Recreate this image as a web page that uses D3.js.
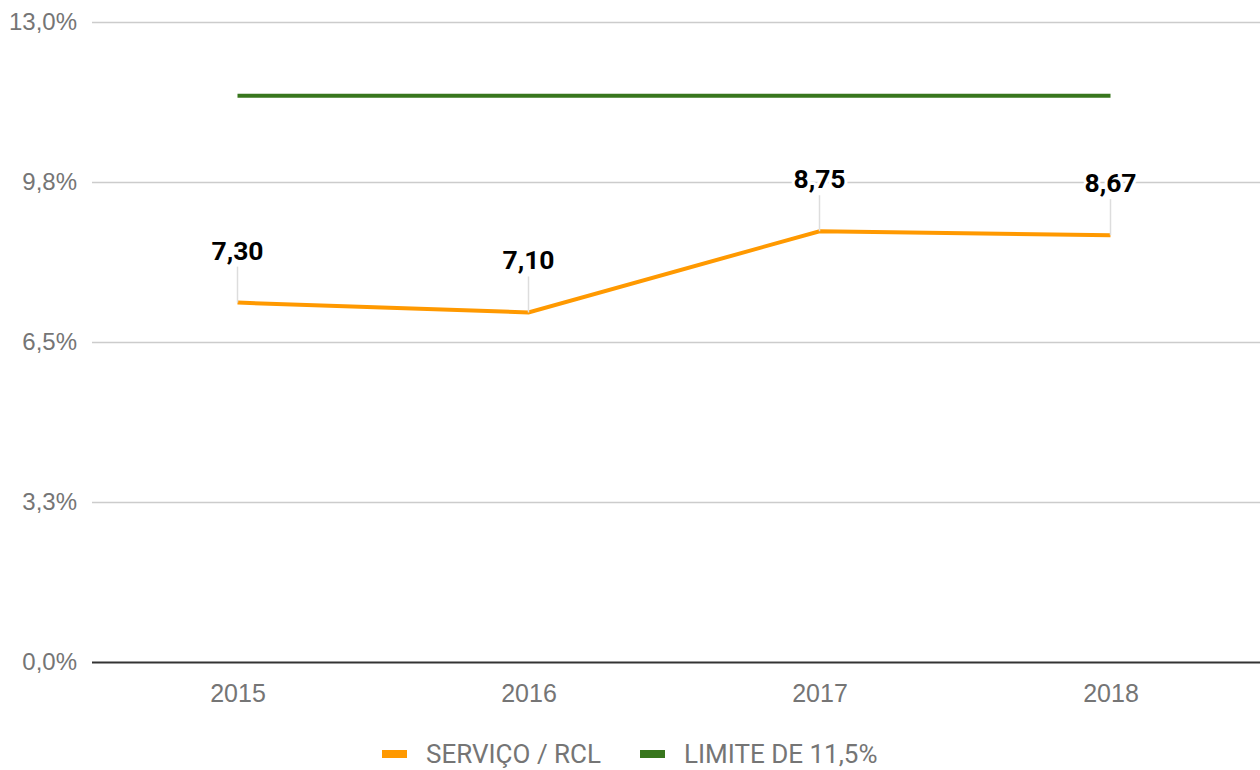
<!DOCTYPE html>
<html>
<head>
<meta charset="utf-8">
<script src="https://cdn.jsdelivr.net/npm/d3@7"></script>
<style>
  html, body { margin: 0; padding: 0; background: #fff; }
  svg { display: block; font-family: Roboto, "Noto Sans", sans-serif; }
</style>
</head>
<body>
<svg id="chart" width="1260" height="770"></svg>
<script>
// Anos, razão serviço da dívida / RCL (%) e limite legal
const years = ["2015", "2016", "2017", "2018"];
const servicoRcl = [7.30, 7.10, 8.75, 8.67];
const limite = [11.5, 11.5, 11.5, 11.5];
const yTicks = [0, 3.25, 6.5, 9.75, 13];
const legendLabels = ["SERVIÇO / RCL", "LIMITE DE 11,5%"];

const colors = { servico: "#ff9900", limite: "#38761d" };

const svg = d3.select("#chart");
const plot = { left: 92, right: 1256, top: 22, bottom: 662 };

const x = d3.scalePoint().domain(years).range([plot.left, plot.right]).padding(0.5);
const y = d3.scaleLinear().domain([0, 13]).range([plot.bottom, plot.top]);

const fmtPct = v => d3.format(".1f")(v).replace(".", ",") + "%";
const fmtVal = v => d3.format(".2f")(v).replace(".", ",");

// Linhas de grade horizontais
const yAxis = d3.axisLeft(y).tickValues(yTicks).tickSize(-(1260 - plot.left)).tickFormat(fmtPct).tickPadding(15);
const gy = svg.append("g").attr("transform", `translate(${plot.left},0)`).call(yAxis);
gy.select(".domain").remove();
gy.selectAll(".tick line").attr("stroke", "#cccccc").attr("stroke-width", 1.5);
gy.selectAll(".tick text").attr("fill", "#757575").attr("font-size", 24);
gy.selectAll(".tick").filter(d => d === 0).select("line").attr("stroke", "#333333").attr("stroke-width", 2);

// Eixo dos anos
const xAxis = d3.axisBottom(x).tickSize(0).tickPadding(22);
const gx = svg.append("g").attr("transform", `translate(0,${plot.bottom})`).call(xAxis);
gx.select(".domain").remove();
gx.selectAll(".tick text").attr("fill", "#757575").attr("font-size", 25);

const line = d3.line().x((d, i) => x(years[i])).y(d => y(d));

svg.append("path").datum(limite)
  .attr("d", line).attr("fill", "none")
  .attr("stroke", colors.limite).attr("stroke-width", 4);

svg.append("path").datum(servicoRcl)
  .attr("d", line).attr("fill", "none")
  .attr("stroke", colors.servico).attr("stroke-width", 4);

// Rótulos de valor com linhas-guia
const labels = svg.append("g");
servicoRcl.forEach((v, i) => {
  const px = x(years[i]), py = y(v);
  labels.append("line")
    .attr("x1", px).attr("x2", px)
    .attr("y1", py).attr("y2", py - 36)
    .attr("stroke", "#dddddd").attr("stroke-width", 1.5);
  labels.append("text")
    .attr("x", px).attr("y", py - 43)
    .attr("text-anchor", "middle")
    .attr("font-size", 26.5).attr("font-weight", "bold")
    .attr("fill", "#000")
    .attr("stroke", "#fff").attr("stroke-width", 6).attr("paint-order", "stroke")
    .attr("stroke-linejoin", "round")
    .text(fmtVal(v));
});

// Legenda
const legend = svg.append("g").attr("transform", "translate(0,754)");
const legendItems = [
  { label: legendLabels[0], color: colors.servico, x: 382 },
  { label: legendLabels[1], color: colors.limite, x: 640 }
];
legendItems.forEach(d => {
  legend.append("rect").attr("x", d.x).attr("y", -4).attr("width", 25).attr("height", 8).attr("fill", d.color);
  legend.append("text").attr("x", d.x + 44).attr("y", 9)
    .attr("font-size", 26).attr("fill", "#757575").text(d.label);
});
</script>
</body>
</html>
